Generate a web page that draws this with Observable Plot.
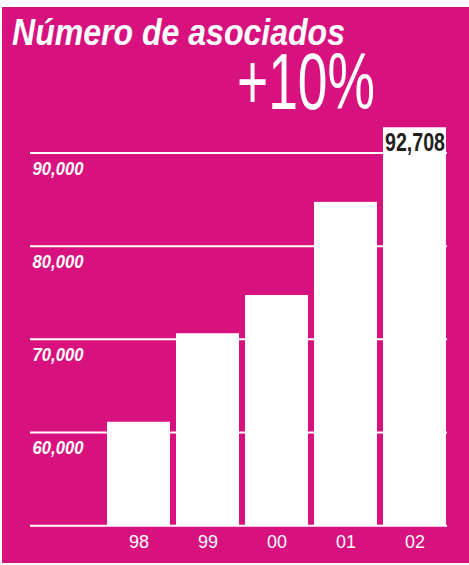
<!DOCTYPE html>
<html>
<head>
<meta charset="utf-8">
<script src="https://cdn.jsdelivr.net/npm/d3@7"></script>
<script src="https://cdn.jsdelivr.net/npm/@observablehq/plot@0.6"></script>
<style>
  html, body { margin: 0; padding: 0; background: #ffffff; width: 469px; height: 565px; overflow: hidden; }
  #bg { position: absolute; left: 2px; top: 7px; width: 467px; height: 556px; background: #d7127f; }
  .hd { position: absolute; color: #ffffff; white-space: nowrap; transform-origin: 0 0; font-family: "Liberation Sans", Arial, sans-serif; }
  #title { left: 12px; top: 14.5px; font-size: 36px; line-height: 1; font-weight: bold; font-style: italic; }
  #change { left: 237px; top: 52.3px; font-size: 80px; line-height: 0.75; font-weight: normal; }
  #chart { position: absolute; left: 0; top: 0; }
</style>
</head>
<body>
<div id="bg"></div>
<div id="title" class="hd">Número de asociados</div>
<div id="change" class="hd">+10%</div>
<div id="chart"></div>
<script>
// Data
const years = ["98", "99", "00", "01", "02"];
const members = [61100, 70600, 74700, 84700, 92708];
const yTicks = [60000, 70000, 80000, 90000];
const baseValue = 50000;
const topValue = 90000;

const data = years.map((y, i) => ({year: y, value: members[i]}));
const fmt = d3.format(",");

const chart = Plot.plot({
  width: 469,
  height: 565,
  marginLeft: 30,
  marginRight: 22,
  marginTop: 0,
  marginBottom: 0,
  style: {background: "transparent", fontFamily: "'Liberation Sans', Arial, sans-serif", overflow: "visible"},
  x: {type: "band", domain: years, range: [106, 446.7], paddingInner: 0.093, paddingOuter: 0, axis: null},
  y: {domain: [baseValue, topValue], range: [525.2, 152.5], axis: null},
  marks: [
    Plot.ruleY([baseValue, ...yTicks], {y: d => d, stroke: "#ffffff", strokeWidth: 2}),
    Plot.barY(data, {x: "year", y1: () => baseValue, y2: "value", fill: "#ffffff"}),
    Plot.text(yTicks, {y: d => d, text: d => fmt(d), frameAnchor: "left", textAnchor: "start", lineAnchor: "top", dx: 2, dy: 9, fill: "#ffffff", fontSize: 18, fontWeight: "bold", fontStyle: "italic"}),
    Plot.text(years, {x: d => d, y: () => baseValue, text: d => d, lineAnchor: "top", dy: 9.5, fill: "#ffffff", fontSize: 18.5, fontWeight: 500}),
    Plot.text(data, {filter: (d, i) => i === data.length - 1, x: "year", y: "value", text: d => fmt(d.value), lineAnchor: "top", dy: 5, fill: "#231f20", fontSize: 25, fontWeight: "bold"})
  ]
});
document.getElementById("chart").appendChild(chart);

// condense texts to match the narrow typeface
const groups = chart.querySelectorAll('g[aria-label="text"]');
const targets = [51, 20, 60];
groups.forEach((g, gi) => {
  g.querySelectorAll("text").forEach(t => {
    t.setAttribute("textLength", targets[gi]);
    t.setAttribute("lengthAdjust", "spacingAndGlyphs");
  });
});

function fit(id, width) {
  const el = document.getElementById(id);
  const w = el.getBoundingClientRect().width;
  el.style.transform = `scaleX(${width / w})`;
}
fit("title", 333);
fit("change", 138);
</script>
</body>
</html>
